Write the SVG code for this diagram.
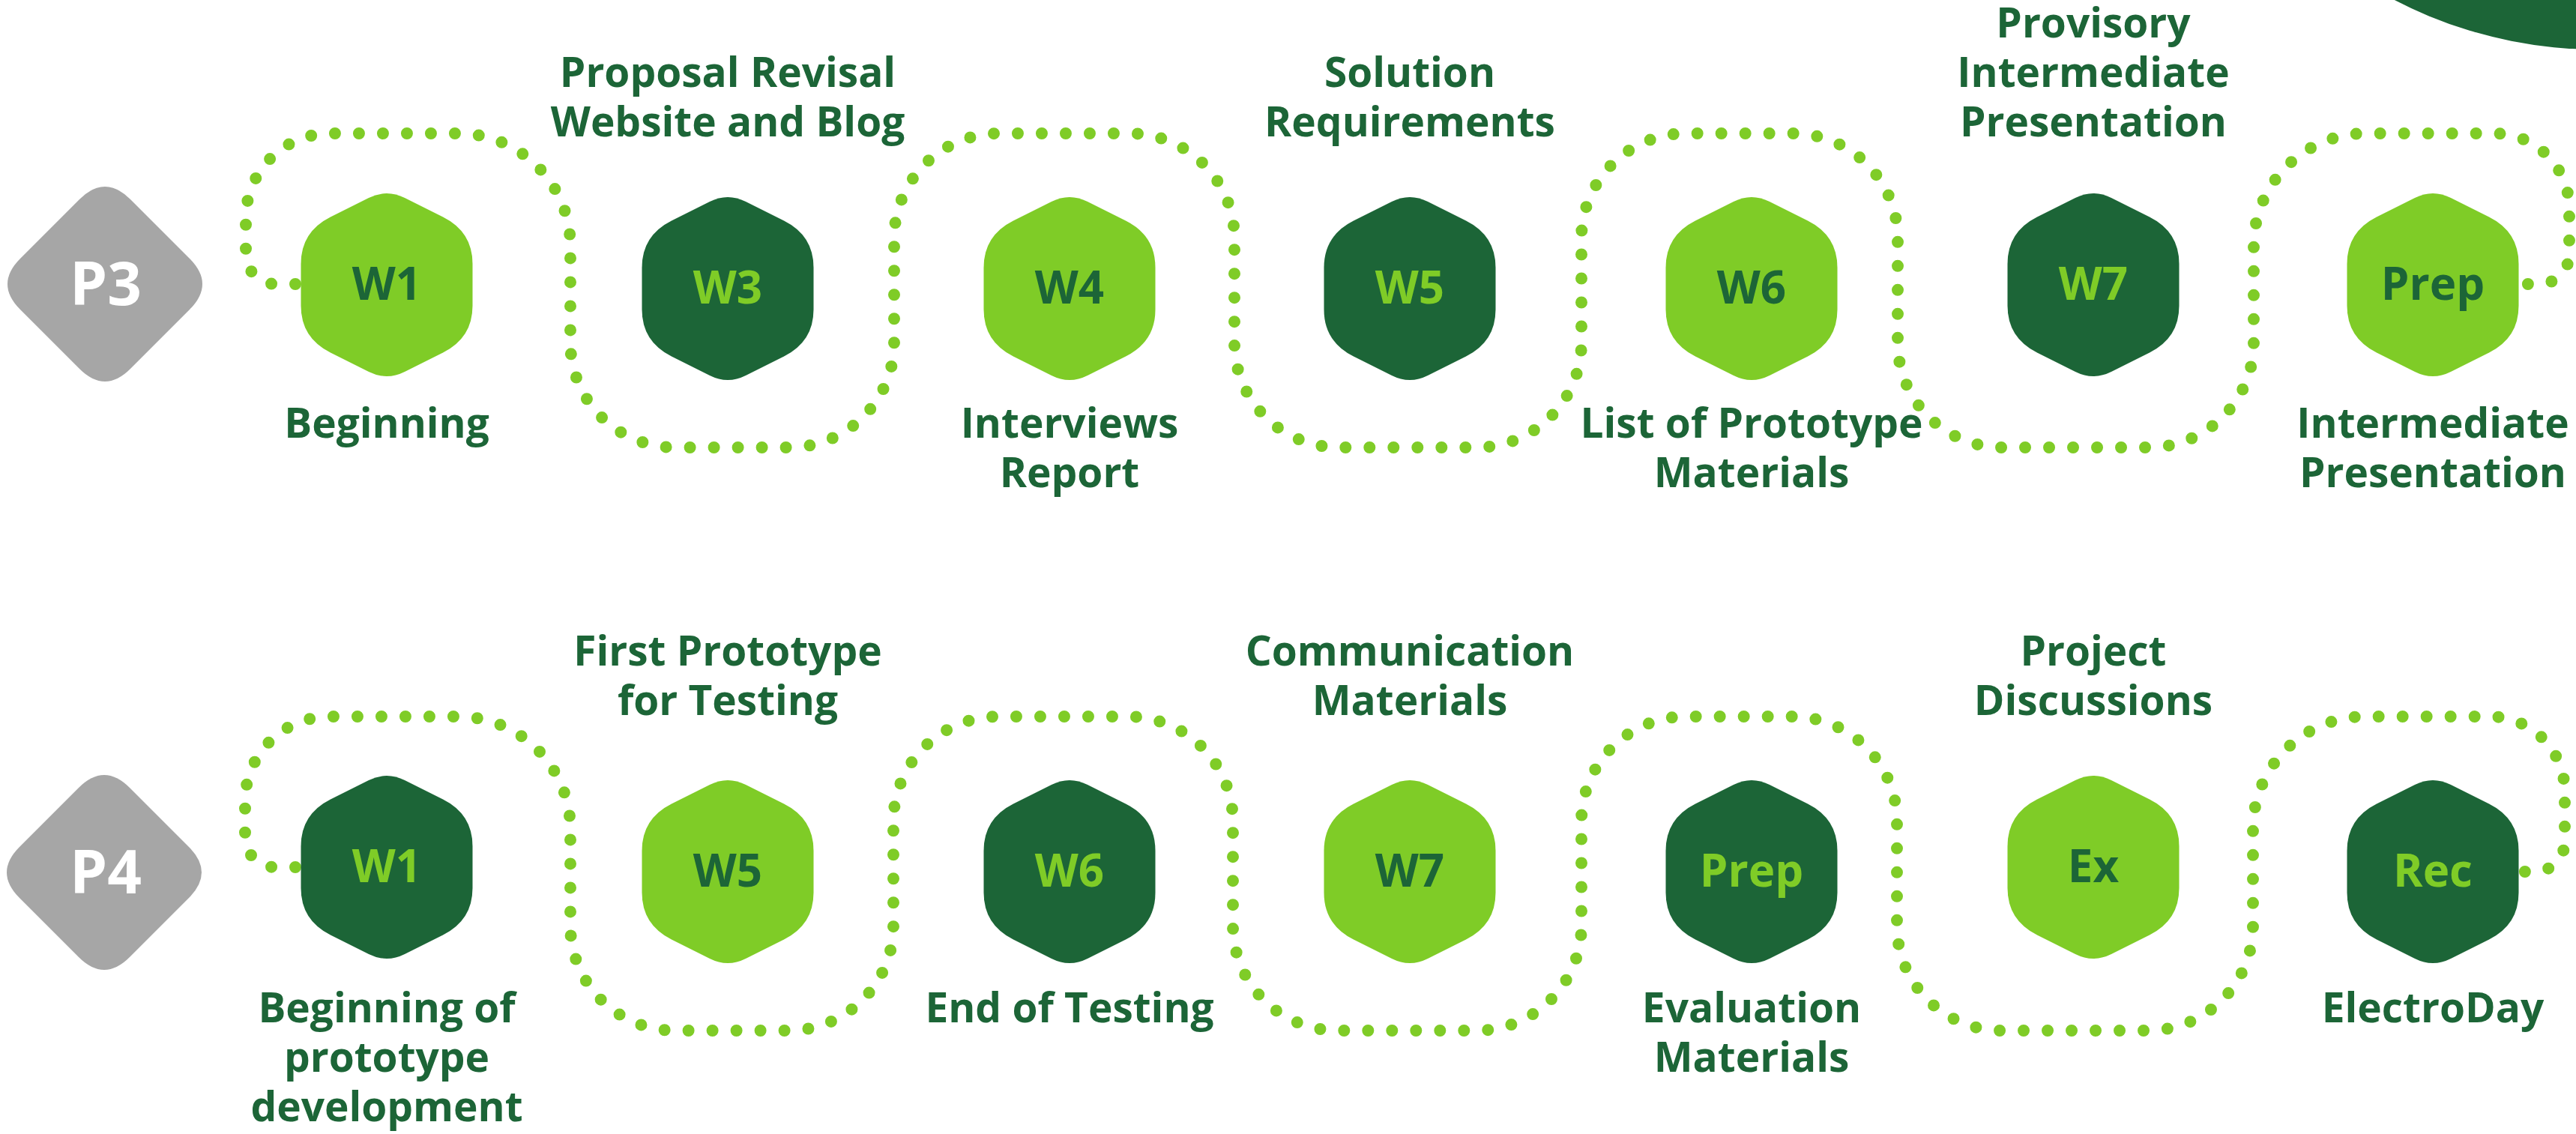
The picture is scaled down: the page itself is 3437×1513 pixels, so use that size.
<svg xmlns="http://www.w3.org/2000/svg" xmlns:xlink="http://www.w3.org/1999/xlink" width="3437" height="1513" viewBox="0 0 3437 1513">
<style>
.bg{fill:#ffffff}
.dots{fill:none;stroke:#7fcc27;stroke-width:16;stroke-linecap:round;stroke-dasharray:0 32}
.dk{fill:#1c6537}
.lt{fill:#7fcc27}
.gr{fill:#a6a6a6}
text{font-family:'Open Sans','Liberation Sans',sans-serif;font-weight:700;text-anchor:middle}
.lbl{font-size:55px;fill:#1c6537}
.nt{font-size:60px}
.ntd{fill:#1c6537}
.ntl{fill:#7fcc27}
.pt{font-size:80px;fill:#ffffff}
</style>
<defs>
<path id="hex" d="M24,-116 L75,-90.5 Q114.5,-70.75 114.5,-28 L114.5,28 Q114.5,70.75 75,90.5 L24,116 Q0,128 -24,116 L-75,90.5 Q-114.5,70.75 -114.5,28 L-114.5,-28 Q-114.5,-70.75 -75,-90.5 L-24,-116 Q0,-128 24,-116 Z"/>
<path id="dia" d="M-34,-113 Q0,-147 34,-113 L113,-34 Q147,0 113,34 L34,113 Q0,147 -34,113 L-113,34 Q-147,0 -113,-34 Z"/>
</defs>
<rect class="bg" x="0" y="0" width="3437" height="1513"/>
<circle class="dk" cx="3465" cy="-520" r="586"/>

<g id="connectors">
<path class="dots" d="M426,379 L368,379 A40,40 0 0 1 328,339 L328,291 A113,113 0 0 1 441,178 L611,178 A150,150 0 0 1 761,328 L761,457 A140,140 0 0 0 901,597 L1053,597 A140,140 0 0 0 1193,457 L1193,318 A140,140 0 0 1 1333,178 L1507,178 A140,140 0 0 1 1647,318 L1647,457 A140,140 0 0 0 1787,597 L1970,597 A140,140 0 0 0 2110,457 L2110,318 A140,140 0 0 1 2250,178 L2392,178 A140,140 0 0 1 2532,318 L2532,457 A140,140 0 0 0 2672,597 L2867,597 A140,140 0 0 0 3007,457 L3007,328 A150,150 0 0 1 3157,178 L3328,178 A100,100 0 0 1 3428,278 L3428,339 A40,40 0 0 1 3388,379 L3330,379"/>
<path class="dots" d="M426,1157 L367,1157 A40,40 0 0 1 327,1117 L327,1069 A113,113 0 0 1 440,956 L611,956 A150,150 0 0 1 761,1106 L761,1235 A140,140 0 0 0 901,1375 L1052,1375 A140,140 0 0 0 1192,1235 L1192,1096 A140,140 0 0 1 1332,956 L1505,956 A140,140 0 0 1 1645,1096 L1645,1235 A140,140 0 0 0 1785,1375 L1970,1375 A140,140 0 0 0 2110,1235 L2110,1096 A140,140 0 0 1 2250,956 L2391,956 A140,140 0 0 1 2531,1096 L2531,1235 A140,140 0 0 0 2671,1375 L2866,1375 A140,140 0 0 0 3006,1235 L3006,1106 A150,150 0 0 1 3156,956 L3322,956 A100,100 0 0 1 3422,1056 L3422,1123 A40,40 0 0 1 3382,1163 L3330,1163"/>
</g>

<!-- Row P3 -->
<g id="p3"><use href="#dia" class="gr" x="140" y="379"/><text class="pt" x="141" y="407">P3</text></g>
<g id="p3-w1"><use href="#hex" class="lt" x="516" y="380"/><text class="nt ntd" x="516" y="400">W1</text><text class="lbl" x="516" y="584">Beginning</text></g>
<g id="p3-w3"><use href="#hex" class="dk" x="971" y="385"/><text class="nt ntl" x="971" y="405">W3</text><text class="lbl" x="971" y="116">Proposal Revisal</text><text class="lbl" x="971" y="182">Website and Blog</text></g>
<g id="p3-w4"><use href="#hex" class="lt" x="1427" y="385"/><text class="nt ntd" x="1427" y="405">W4</text><text class="lbl" x="1427" y="584">Interviews</text><text class="lbl" x="1427" y="650">Report</text></g>
<g id="p3-w5"><use href="#hex" class="dk" x="1881" y="385"/><text class="nt ntl" x="1881" y="405">W5</text><text class="lbl" x="1881" y="116">Solution</text><text class="lbl" x="1881" y="182">Requirements</text></g>
<g id="p3-w6"><use href="#hex" class="lt" x="2337" y="385"/><text class="nt ntd" x="2337" y="405">W6</text><text class="lbl" x="2337" y="584">List of Prototype</text><text class="lbl" x="2337" y="650">Materials</text></g>
<g id="p3-w7"><use href="#hex" class="dk" x="2793" y="380"/><text class="nt ntl" x="2793" y="400">W7</text><text class="lbl" x="2793" y="50">Provisory</text><text class="lbl" x="2793" y="116">Intermediate</text><text class="lbl" x="2793" y="182">Presentation</text></g>
<g id="p3-prep"><use href="#hex" class="lt" x="3246" y="380"/><text class="nt ntd" x="3246" y="400">Prep</text><text class="lbl" x="3246" y="584">Intermediate</text><text class="lbl" x="3246" y="650">Presentation</text></g>

<!-- Row P4 -->
<g id="p4"><use href="#dia" class="gr" x="139" y="1164"/><text class="pt" x="141" y="1192">P4</text></g>
<g id="p4-w1"><use href="#hex" class="dk" x="516" y="1157"/><text class="nt ntl" x="516" y="1177">W1</text><text class="lbl" x="516" y="1364">Beginning of</text><text class="lbl" x="516" y="1430">prototype</text><text class="lbl" x="516" y="1496">development</text></g>
<g id="p4-w5"><use href="#hex" class="lt" x="971" y="1163"/><text class="nt ntd" x="971" y="1183">W5</text><text class="lbl" x="971" y="888">First Prototype</text><text class="lbl" x="971" y="954">for Testing</text></g>
<g id="p4-w6"><use href="#hex" class="dk" x="1427" y="1163"/><text class="nt ntl" x="1427" y="1183">W6</text><text class="lbl" x="1427" y="1364">End of Testing</text></g>
<g id="p4-w7"><use href="#hex" class="lt" x="1881" y="1163"/><text class="nt ntd" x="1881" y="1183">W7</text><text class="lbl" x="1881" y="888">Communication</text><text class="lbl" x="1881" y="954">Materials</text></g>
<g id="p4-prep"><use href="#hex" class="dk" x="2337" y="1163"/><text class="nt ntl" x="2337" y="1183">Prep</text><text class="lbl" x="2337" y="1364">Evaluation</text><text class="lbl" x="2337" y="1430">Materials</text></g>
<g id="p4-ex"><use href="#hex" class="lt" x="2793" y="1157"/><text class="nt ntd" x="2793" y="1177">Ex</text><text class="lbl" x="2793" y="888">Project</text><text class="lbl" x="2793" y="954">Discussions</text></g>
<g id="p4-rec"><use href="#hex" class="dk" x="3246" y="1163"/><text class="nt ntl" x="3246" y="1183">Rec</text><text class="lbl" x="3246" y="1364">ElectroDay</text></g>
</svg>
